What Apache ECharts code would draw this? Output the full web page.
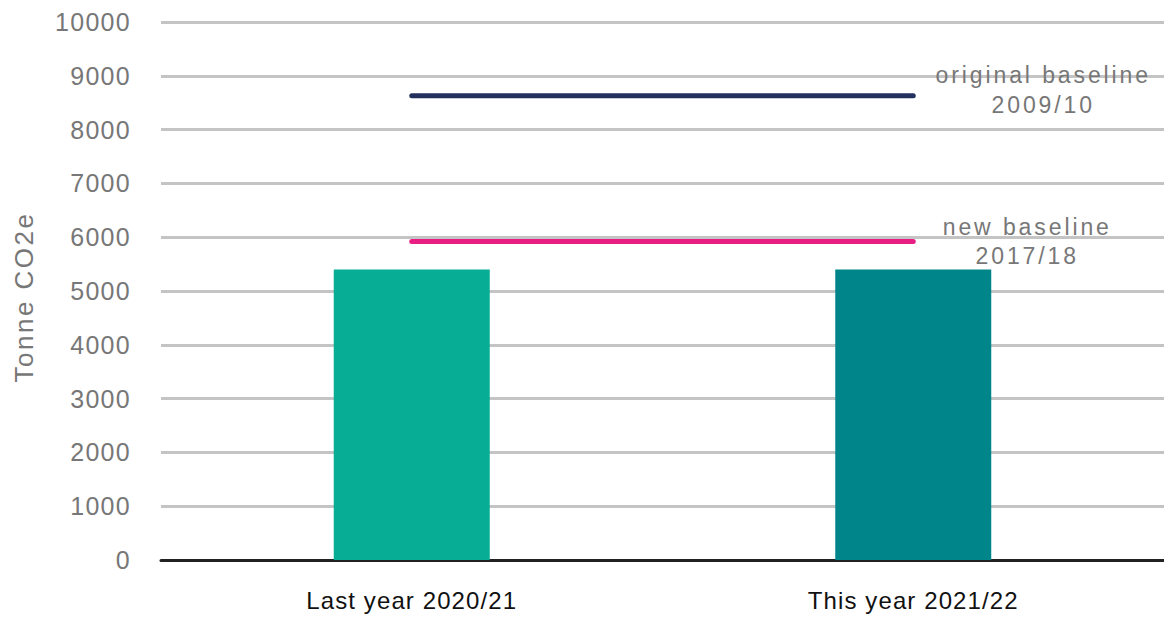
<!DOCTYPE html>
<html><head><meta charset="utf-8">
<script src="https://cdn.jsdelivr.net/npm/echarts@6/dist/echarts.min.js"></script>
<style>
html,body{margin:0;padding:0;background:#fff}
#c{width:1164px;height:617px}
#c text[style*="24px"]{letter-spacing:1.1px}
#c text[style*="25px"]{letter-spacing:1.3px}
#c text[style*="26px"]{letter-spacing:2.5px}
#c text[style*="23px"]{letter-spacing:2.9px}
</style>
</head><body><div id="c"></div>
<script>
var categories = ['Last year 2020/21', 'This year 2021/22'];
var emissions = [5400, 5400];
var originalBaseline = [8630, 8630];
var newBaseline = [5920, 5920];
var barColors = ['#07ad94', '#00868a'];
var yTicks = [0, 10000, 1000];

var chart = echarts.init(document.getElementById('c'), null, {renderer: 'svg'});
var grey = '#777777';
chart.setOption({
  animation: false,
  grid: {left: 161, right: 0, top: 22, bottom: 57, outerBoundsMode: 'none', containLabel: false},
  xAxis: {
    type: 'category', data: categories,
    axisLine: {lineStyle: {color: '#222', width: 3}},
    axisTick: {show: false},
    axisLabel: {color: '#111', fontSize: 24, margin: 28, fontFamily: 'Liberation Sans'}
  },
  yAxis: {
    type: 'value', min: yTicks[0], max: yTicks[1], interval: yTicks[2],
    name: 'Tonne CO2e', nameLocation: 'middle', nameGap: 124, nameRotate: 90,
    nameTextStyle: {color: grey, fontSize: 26, fontFamily: 'Liberation Sans', padding: [0, 12, 0, 0]},
    axisLine: {show: false}, axisTick: {show: false},
    axisLabel: {color: grey, fontSize: 25, margin: 30, fontFamily: 'Liberation Sans',
      formatter: function (v) { return String(v); }},
    splitLine: {lineStyle: {color: '#c4c4c4', width: 3}}
  },
  series: [
    {type: 'bar', barWidth: 156, data: emissions.map(function (v, i) { return {value: v, itemStyle: {color: barColors[i]}}; }), z: 2},
    {type: 'line', data: originalBaseline, symbol: 'none', z: 3,
     lineStyle: {color: '#23305e', width: 5, cap: 'round'},
     endLabel: {show: true, formatter: 'original baseline\n2009/10', color: grey, fontSize: 23,
       fontFamily: 'Liberation Sans', align: 'center', lineHeight: 30, offset: [122, -6]}},
    {type: 'line', data: newBaseline, symbol: 'none', z: 3,
     lineStyle: {color: '#e91e84', width: 5, cap: 'round'},
     endLabel: {show: true, formatter: 'new baseline\n2017/18', color: grey, fontSize: 23,
       fontFamily: 'Liberation Sans', align: 'center', lineHeight: 29, offset: [106, 0]}}
  ]
});
</script></body></html>
